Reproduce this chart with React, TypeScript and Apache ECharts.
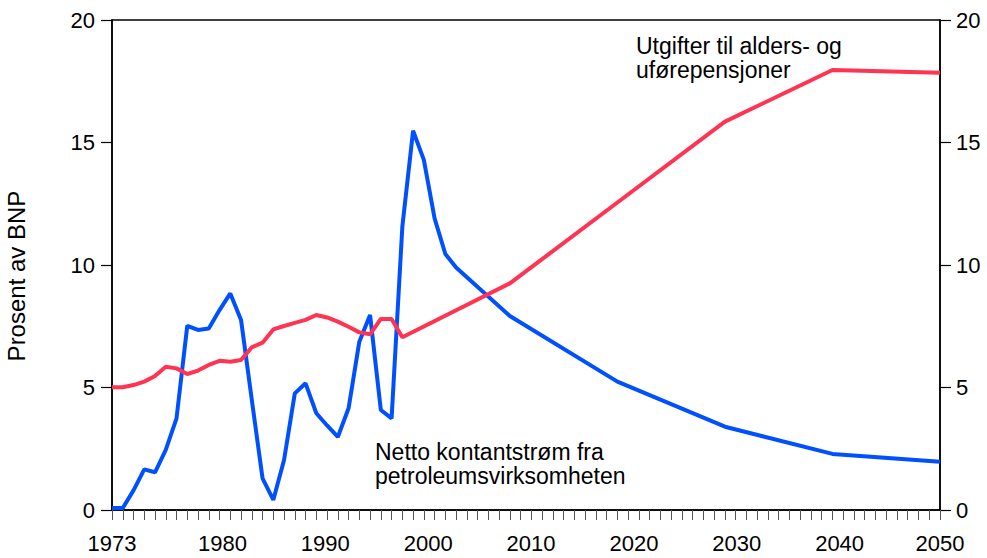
import React, { useEffect, useRef } from "react";
import * as echarts from "echarts";

// Netto kontantstrøm fra petroleumsvirksomheten (prosent av BNP)
const netCashYears = [
  1973, 1974, 1975, 1976, 1977, 1978, 1979, 1980, 1981, 1982, 1983, 1984, 1985,
  1986, 1987, 1988, 1989, 1990, 1991, 1992, 1993, 1994, 1995, 1996, 1997, 1998,
  1999, 2000, 2001, 2002, 2003, 2004, 2005, 2010, 2020, 2030, 2040, 2050,
];
const netCashValues = [
  0.08, 0.08, 0.8, 1.66, 1.54, 2.45, 3.74, 7.52, 7.35, 7.41, 8.16, 8.84, 7.76,
  4.5, 1.29, 0.41, 2.04, 4.76, 5.17, 3.95, 3.45, 2.98, 4.15, 6.87, 7.96, 4.08,
  3.74, 11.56, 15.48, 14.29, 11.9, 10.45, 9.9, 7.92, 5.24, 3.4, 2.29, 1.97,
];

// Utgifter til alders- og uførepensjoner (prosent av BNP)
const pensionYears = [
  1973, 1974, 1975, 1976, 1977, 1978, 1979, 1980, 1981, 1982, 1983, 1984, 1985,
  1986, 1987, 1988, 1989, 1990, 1991, 1992, 1993, 1994, 1995, 1996, 1997, 1998,
  1999, 2000, 2010, 2020, 2030, 2040, 2050,
];
const pensionValues = [
  5.01, 5.01, 5.1, 5.24, 5.47, 5.85, 5.78, 5.55, 5.69, 5.92, 6.09, 6.05, 6.12,
  6.64, 6.83, 7.37, 7.51, 7.64, 7.76, 7.96, 7.86, 7.69, 7.48, 7.25, 7.17, 7.8,
  7.8, 7.05, 9.25, 12.55, 15.85, 17.96, 17.85,
];

const xTickLabels = ["1973", "1980", "1990", "2000", "2010", "2020", "2030", "2040", "2050"];
const yTicks = [0, 5, 10, 15, 20];

const FONT = "'Liberation Sans', Arial, Helvetica, sans-serif";

export default function App() {
  const ref = useRef<HTMLDivElement>(null);

  useEffect(() => {
    if (!ref.current) return;
    const chart = echarts.init(ref.current, undefined, { renderer: "svg" });

    // label axis (labels in the original are spaced slightly differently from the year ticks)
    const labelMin = 1969.26;
    const labelMax = 2049.76;
    const labelPositions = xTickLabels.map((t, i) =>
      i === 0 ? labelMin : i === xTickLabels.length - 1 ? labelMax : Number(t)
    );

    const option: any = {
      animation: false,
      backgroundColor: "#ffffff",
      grid: {
        left: 112,
        right: 47,
        top: 20,
        bottom: 48,
        show: true,
        borderColor: "#000",
        borderWidth: 1.5,
        backgroundColor: "transparent",
      },
      xAxis: [
        {
          type: "value",
          min: 1973,
          max: 2050,
          interval: 1,
          position: "bottom",
          axisLine: { show: true, lineStyle: { color: "#000", width: 1.5 } },
          axisTick: { show: true, inside: false, length: 10, lineStyle: { color: "#555", width: 1 } },
          axisLabel: { show: false },
          splitLine: { show: false },
        },
        {
          type: "value",
          min: labelMin,
          max: labelMax,
          position: "bottom",
          axisLine: { show: false },
          axisTick: { show: false },
          splitLine: { show: false },
          axisLabel: {
            show: true,
            customValues: labelPositions,
            formatter: (v: number) => {
              const idx = labelPositions.findIndex((p) => Math.abs(p - v) < 1e-6);
              return idx >= 0 ? xTickLabels[idx] : "";
            },
            margin: 22,
            fontSize: 22,
            color: "#000",
            fontFamily: FONT,
          },
        },
      ],
      yAxis: [
        {
          type: "value",
          min: yTicks[0],
          max: yTicks[yTicks.length - 1],
          interval: 5,
          position: "left",
          axisLine: { show: true, lineStyle: { color: "#000", width: 1.5 } },
          axisTick: { show: true, inside: false, length: 11, lineStyle: { color: "#000", width: 1.2 } },
          axisLabel: { margin: 17, fontSize: 22, color: "#000", fontFamily: FONT },
          splitLine: { show: false },
        },
        {
          type: "value",
          min: yTicks[0],
          max: yTicks[yTicks.length - 1],
          interval: 5,
          position: "right",
          axisLine: { show: true, lineStyle: { color: "#000", width: 1.5 } },
          axisTick: { show: true, inside: false, length: 11, lineStyle: { color: "#000", width: 1.2 } },
          axisLabel: { margin: 16, fontSize: 22, color: "#000", fontFamily: FONT },
          splitLine: { show: false },
        },
      ],
      series: [
        {
          name: "Netto kontantstrøm fra petroleumsvirksomheten",
          type: "line",
          xAxisIndex: 0,
          yAxisIndex: 0,
          data: netCashYears.map((y, i) => [y, netCashValues[i]]),
          showSymbol: false,
          lineStyle: { color: "#0050ff", width: 4 },
          itemStyle: { color: "#0050ff" },
        },
        {
          name: "Utgifter til alders- og uførepensjoner",
          type: "line",
          xAxisIndex: 0,
          yAxisIndex: 0,
          data: pensionYears.map((y, i) => [y, pensionValues[i]]),
          showSymbol: false,
          lineStyle: { color: "#ff3352", width: 4 },
          itemStyle: { color: "#ff3352" },
        },
      ],
      graphic: [
        {
          type: "text",
          x: 16,
          y: 276,
          rotation: Math.PI / 2,
          style: {
            text: "Prosent av BNP",
            fontSize: 24,
            fontFamily: FONT,
            fill: "#000",
            align: "center",
            verticalAlign: "middle",
          },
        },
        {
          type: "text",
          x: 636,
          y: 58,
          style: {
            text: "Utgifter til alders- og\nuførepensjoner",
            fontSize: 23,
            lineHeight: 24,
            fontFamily: FONT,
            fill: "#000",
            align: "left",
            verticalAlign: "middle",
          },
        },
        {
          type: "text",
          x: 375,
          y: 464,
          style: {
            text: "Netto kontantstrøm fra\npetroleumsvirksomheten",
            fontSize: 23,
            lineHeight: 24,
            fontFamily: FONT,
            fill: "#000",
            align: "left",
            verticalAlign: "middle",
          },
        },
      ],
    };

    chart.setOption(option);
    return () => chart.dispose();
  }, []);

  return (
    <div
      ref={ref}
      style={{ position: "fixed", left: 0, top: 0, width: 987, height: 558, background: "#fff" }}
    />
  );
}
